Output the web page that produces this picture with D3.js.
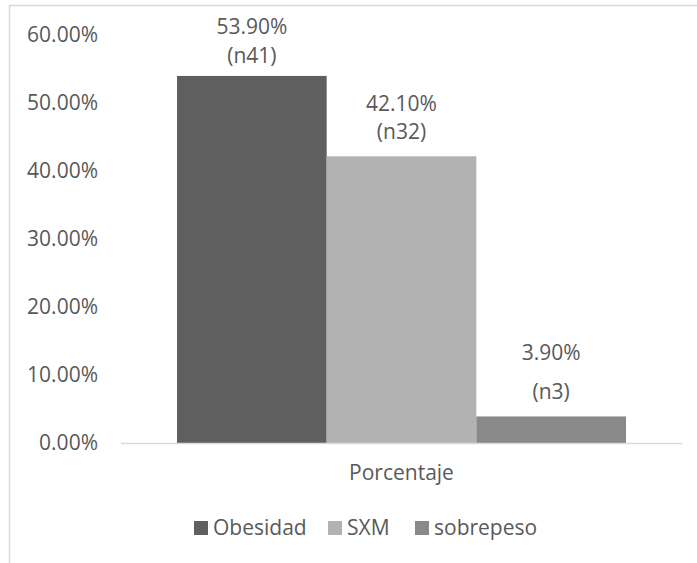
<!DOCTYPE html>
<html>
<head>
<meta charset="utf-8">
<script src="https://cdn.jsdelivr.net/npm/d3@7"></script>
<style>
  html, body { margin: 0; padding: 0; background: #fff; }
  svg { display: block; }
  text { font-family: "Open Sans", "Noto Sans", sans-serif; fill: #595959; }
</style>
</head>
<body>
<script>
const categories = ["Porcentaje"];
const seriesNames = ["Obesidad", "SXM", "sobrepeso"];
const seriesValues = [53.9, 42.1, 3.9];
const seriesCounts = ["(n41)", "(n32)", "(n3)"];
const seriesColors = ["#5f5f5f", "#b2b2b2", "#898989"];
const yTicks = [0, 10, 20, 30, 40, 50, 60];

const W = 697, H = 563;
const FS = "21px";
const svg = d3.select("body").append("svg").attr("width", W).attr("height", H);

// chart frame
svg.append("rect")
  .attr("x", 9.5).attr("y", 5.5).attr("width", W + 10).attr("height", H + 10)
  .attr("fill", "none").attr("stroke", "#d9d9d9").attr("stroke-width", 1.5);

const plot = { left: 121, right: 682, bottom: 443 };

const y = d3.scaleLinear().domain([0, 60]).range([plot.bottom, plot.bottom - 60 * 6.81]);
const x1 = d3.scaleBand().domain(seriesNames).range([177, 626]).padding(0);

// y axis labels
const yAxis = d3.axisLeft(y).tickValues(yTicks).tickSize(0).tickPadding(0)
  .tickFormat(d => d.toFixed(2) + "%");
const ya = svg.append("g").attr("transform", "translate(98,0)").call(yAxis);
ya.select(".domain").remove();
ya.selectAll("text").style("font-size", FS).attr("fill", "#595959")
  .style("font-family", "'Open Sans', sans-serif");

// bars
svg.append("g").selectAll("rect").data(seriesNames).join("rect")
  .attr("x", d => x1(d))
  .attr("width", x1.bandwidth())
  .attr("y", (d, i) => y(seriesValues[i]))
  .attr("height", (d, i) => y(0) - y(seriesValues[i]))
  .attr("fill", (d, i) => seriesColors[i]);

// baseline
svg.append("line")
  .attr("x1", plot.left).attr("x2", plot.right)
  .attr("y1", y(0) + 0.5).attr("y2", y(0) + 0.5)
  .attr("stroke", "#d9d9d9").attr("stroke-width", 1.5);

// value labels (two lines: percentage, then count)
const labelOffsets = [[-42, -13], [-45, -17], [-56, -17]];
const lg = svg.append("g");
seriesNames.forEach((s, i) => {
  const cx = x1(s) + x1.bandwidth() / 2;
  const top = y(seriesValues[i]);
  lg.append("text").attr("x", cx).attr("y", top + labelOffsets[i][0])
    .attr("text-anchor", "middle").style("font-size", FS)
    .text(seriesValues[i].toFixed(2) + "%");
  lg.append("text").attr("x", cx).attr("y", top + labelOffsets[i][1])
    .attr("text-anchor", "middle").style("font-size", FS)
    .text(seriesCounts[i]);
});

// category label
svg.append("text").attr("x", (x1.range()[0] + x1.range()[1]) / 2).attr("y", 480)
  .attr("text-anchor", "middle").style("font-size", FS).text(categories[0]);

// legend
const legendX = [194, 328, 415];
const leg = svg.append("g");
seriesNames.forEach((s, i) => {
  leg.append("rect").attr("x", legendX[i]).attr("y", 521).attr("width", 14).attr("height", 14)
    .attr("fill", seriesColors[i]);
  leg.append("text").attr("x", legendX[i] + 19).attr("y", 535)
    .style("font-size", FS).text(s);
});
</script>
</body>
</html>
